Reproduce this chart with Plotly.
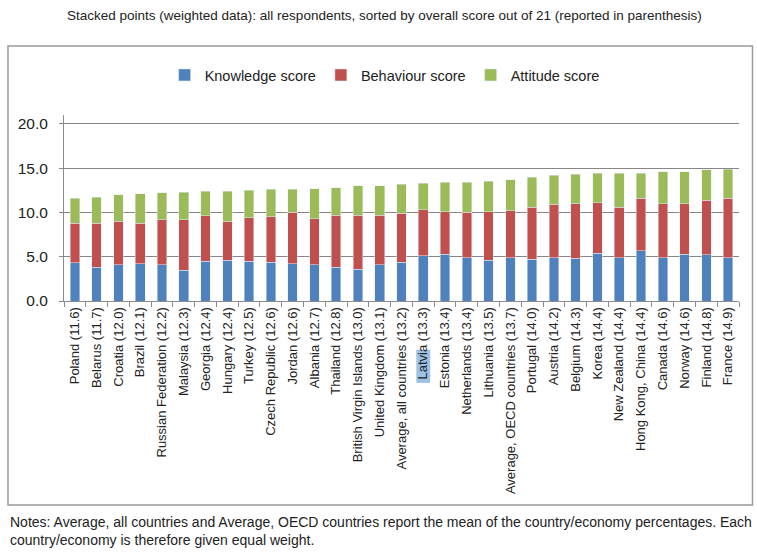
import plotly.graph_objects as go

# data
countries = ["Poland (11.6)", "Belarus (11.7)", "Croatia (12.0)", "Brazil (12.1)",
             "Russian Federation (12.2)", "Malaysia (12.3)", "Georgia (12.4)", "Hungary (12.4)",
             "Turkey (12.5)", "Czech Republic (12.6)", "Jordan (12.6)", "Albania (12.7)",
             "Thailand (12.8)", "British Virgin Islands (13.0)", "United Kingdom (13.1)",
             "Average, all countries (13.2)", "Latvia (13.3)", "Estonia (13.4)",
             "Netherlands (13.4)", "Lithuania (13.5)", "Average, OECD countries (13.7)",
             "Portugal (14.0)", "Austria (14.2)", "Belgium (14.3)", "Korea (14.4)",
             "New Zealand (14.4)", "Hong Kong, China (14.4)", "Canada (14.6)", "Norway (14.6)",
             "Finland (14.8)", "France (14.9)"]
knowledge = [4.3, 3.8, 4.1, 4.2, 4.1, 3.5, 4.5, 4.6, 4.5, 4.4, 4.2, 4.1, 3.8, 3.6, 4.1,
             4.4, 5.1, 5.3, 4.9, 4.6, 4.9, 4.7, 4.9, 4.8, 5.4, 4.9, 5.7, 4.9, 5.3, 5.2, 4.9]
behaviour = [4.5, 5.0, 4.9, 4.6, 5.1, 5.7, 5.1, 4.4, 4.9, 5.1, 5.8, 5.2, 5.9, 6.1, 5.6,
             5.5, 5.2, 4.8, 5.1, 5.5, 5.3, 5.9, 6.0, 6.2, 5.7, 5.7, 5.9, 6.1, 5.7, 6.2, 6.7]
attitude = [2.8, 2.9, 3.0, 3.3, 3.0, 3.1, 2.8, 3.4, 3.1, 3.1, 2.6, 3.4, 3.1, 3.3, 3.3,
            3.3, 3.0, 3.3, 3.4, 3.4, 3.5, 3.4, 3.3, 3.3, 3.3, 3.8, 2.8, 3.6, 3.6, 3.4, 3.3]

FONT = "Liberation Sans"

fig = go.Figure()
fig.add_trace(go.Bar(x=countries, y=knowledge, name="Knowledge score", marker_color="#4F81BD"))
fig.add_trace(go.Bar(x=countries, y=behaviour, name="Behaviour score", marker_color="#C0504D"))
fig.add_trace(go.Bar(x=countries, y=attitude, name="Attitude score", marker_color="#9BBB59"))

fig.update_layout(
    barmode="stack",
    bargap=0.56,
    width=757, height=557,
    margin=dict(l=64, r=18, t=115, b=256),
    paper_bgcolor="white",
    plot_bgcolor="rgba(0,0,0,0)",
    font=dict(family=FONT, size=12, color="#222222"),
    legend=dict(orientation="h", x=0.475, xanchor="center", y=1.215, yanchor="middle",
                font=dict(size=14.5), traceorder="normal", itemwidth=30),
    xaxis=dict(tickangle=-90, tickfont=dict(size=13), showline=True, linecolor="#8c8c8c",
               ticks="outside", tickson="boundaries", ticklen=5, tickcolor="#8c8c8c",
               showgrid=False),
    yaxis=dict(range=[0, 21], tickvals=[0, 5, 10, 15, 20], tickformat=".1f",
               tickfont=dict(size=15.5), showgrid=True, gridcolor="#868686", gridwidth=1,
               showline=True, linecolor="#8c8c8c", ticks="outside", ticklen=4,
               tickcolor="#8c8c8c", zeroline=False, ticklabelstandoff=8),
)

# chart frame
fig.add_shape(type="rect", xref="paper", yref="paper", x0=-0.083, x1=1.02, y0=-1.097, y1=1.371,
              line=dict(color="#9a9a9a", width=1.5), layer="below")
# selection highlight behind "Latvia"
fig.add_shape(type="rect", xref="x", yref="paper", x0=15.68, x1=16.32, y0=-0.44, y1=-0.262,
              fillcolor="#9cc3e6", line_width=0, layer="below")

fig.add_annotation(text="Stacked points (weighted data): all respondents, sorted by overall score out of 21 (reported in parenthesis)",
                   xref="paper", yref="paper", x=0.475, y=(301 - 15) / 186, xanchor="center",
                   yanchor="middle", showarrow=False, font=dict(size=13.5))
fig.add_annotation(text="Notes: Average, all countries and Average, OECD countries report the mean of the country/economy percentages. Each<br>country/economy is therefore given equal weight.",
                   xref="paper", yref="paper", x=-0.083, y=(301 - 531) / 186, xanchor="left",
                   yanchor="middle", align="left", showarrow=False, font=dict(size=14))

fig.write_html("out.html", config={"displayModeBar": False},
               post_script="document.body.style.margin='0';")
